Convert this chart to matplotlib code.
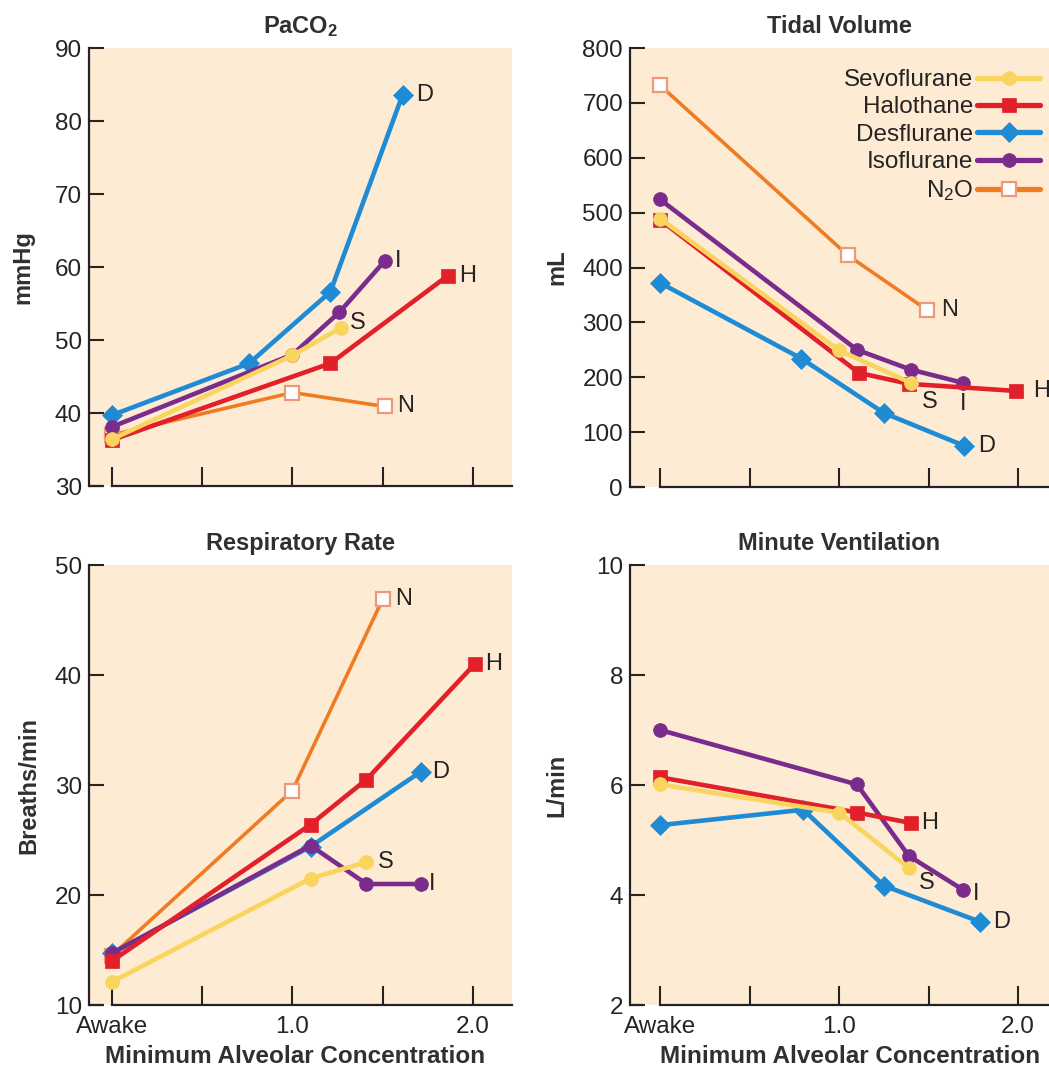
import matplotlib
matplotlib.use("Agg")
import matplotlib.pyplot as plt
from matplotlib.lines import Line2D

# ------------------------------------------------------------------ data
agents = ["Sevoflurane", "Halothane", "Desflurane", "Isoflurane", "N2O"]
agent_letters = ["S", "H", "D", "I", "N"]
mac_ticks = [0, 0.5, 1.0, 1.5, 2.0]
mac_tick_labels = ["Awake", "", "1.0", "", "2.0"]

# PaCO2 (mmHg)
paco2_sevo_mac = [0, 1.0, 1.27]
paco2_sevo = [36.4, 47.9, 51.7]
paco2_halo_mac = [0, 1.21, 1.86]
paco2_halo = [36.3, 46.8, 58.8]
paco2_des_mac = [0, 0.76, 1.21, 1.61]
paco2_des = [39.7, 46.8, 56.6, 83.6]
paco2_iso_mac = [0, 1.0, 1.26, 1.51]
paco2_iso = [38.1, 48.0, 53.8, 60.8]
paco2_n2o_mac = [0, 1.0, 1.51]
paco2_n2o = [37.0, 42.8, 40.9]

# Tidal volume (mL)
tv_sevo_mac = [0, 1.0, 1.40]
tv_sevo = [489, 249, 190]
tv_halo_mac = [0, 1.11, 1.39, 1.99]
tv_halo = [487, 208, 188, 175]
tv_des_mac = [0, 0.79, 1.25, 1.70]
tv_des = [372, 234, 135, 75]
tv_iso_mac = [0, 1.10, 1.40, 1.69]
tv_iso = [524, 250, 214, 190]
tv_n2o_mac = [0, 1.05, 1.49]
tv_n2o = [732, 422, 323]

# Respiratory rate (breaths/min)
rr_sevo_mac = [0, 1.1, 1.41]
rr_sevo = [12.1, 21.5, 23.0]
rr_halo_mac = [0, 1.1, 1.41, 2.01]
rr_halo = [14.0, 26.4, 30.5, 41.0]
rr_des_mac = [0, 1.1, 1.71]
rr_des = [14.7, 24.4, 31.2]
rr_iso_mac = [0, 1.1, 1.41, 1.71]
rr_iso = [14.7, 24.5, 21.0, 21.0]
rr_n2o_mac = [0, 1.0, 1.5]
rr_n2o = [14.5, 29.5, 46.9]

# Minute ventilation (L/min)
mv_sevo_mac = [0, 1.0, 1.39]
mv_sevo = [6.01, 5.5, 4.49]
mv_halo_mac = [0, 1.1, 1.40]
mv_halo = [6.14, 5.5, 5.31]
mv_des_mac = [0, 0.80, 1.25, 1.79]
mv_des = [5.27, 5.55, 4.17, 3.51]
mv_iso_mac = [0, 1.10, 1.39, 1.69]
mv_iso = [7.0, 6.01, 4.71, 4.1]

# ------------------------------------------------------------------ style
plt.rcParams["font.family"] = ["Liberation Sans", "DejaVu Sans"]
plt.rcParams["mathtext.fontset"] = "custom"
plt.rcParams["mathtext.rm"] = "Liberation Sans"
plt.rcParams["mathtext.bf"] = "Liberation Sans:bold"
plt.rcParams["mathtext.it"] = "Liberation Sans:italic"

TXT = "#262324"
LBL = "#303030"
BG = "#FDECD3"
colors = {"Sevoflurane": "#F9D45E", "Halothane": "#E1202A", "Desflurane": "#1E8BD4",
          "Isoflurane": "#7A2C8D", "N2O": "#EF7C25"}
markers = {"Sevoflurane": "o", "Halothane": "s", "Desflurane": "D",
           "Isoflurane": "o", "N2O": "s"}
msizes = {"Sevoflurane": 10, "Halothane": 10.5, "Desflurane": 10.5,
          "Isoflurane": 10, "N2O": 10}
lwidths = {"Sevoflurane": 3.3, "Halothane": 3.3, "Desflurane": 3.3,
           "Isoflurane": 3.3, "N2O": 2.6}
zorders = {"N2O": 2, "Desflurane": 3, "Isoflurane": 4, "Halothane": 5, "Sevoflurane": 6}
legend_names = {"Sevoflurane": "Sevoflurane", "Halothane": "Halothane",
                "Desflurane": "Desflurane", "Isoflurane": "Isoflurane",
                "N2O": r"N$_\mathrm{2}$O"}


def style_kw(agent):
    kw = dict(color=colors[agent], marker=markers[agent], ms=msizes[agent],
              lw=lwidths[agent], zorder=zorders[agent], solid_joinstyle="round",
              solid_capstyle="round")
    if agent == "N2O":
        kw.update(mfc="white", mec="#EE9878", mew=1.6)
    else:
        kw.update(mfc=colors[agent], mec=colors[agent], mew=0.5)
    return kw


W, H = 1049, 1072
fig = plt.figure(figsize=(W / 100, H / 100), dpi=100)


def add_axes_px(l, t, r, b):
    return fig.add_axes([l / W, 1 - b / H, (r - l) / W, (b - t) / H])


# label offsets in pixels (dx right, dy down) relative to last point
panels = [
    dict(box=(89, 48, 512, 486), xlim=(-0.127, 2.216), ylim=(30, 90), yticks=range(30, 91, 10),
         title=r"PaCO$_\mathbf{2}$", ylabel="mmHg", ylabel_x=-0.130, bottom=False,
         series={"N2O": (paco2_n2o_mac, paco2_n2o), "Desflurane": (paco2_des_mac, paco2_des),
                 "Isoflurane": (paco2_iso_mac, paco2_iso), "Halothane": (paco2_halo_mac, paco2_halo),
                 "Sevoflurane": (paco2_sevo_mac, paco2_sevo)},
         offs={"D": (22, 0), "I": (14, 0), "H": (20, 0), "S": (17, -5), "N": (21, 0)},
         legend=False),
    dict(box=(630, 48, 1049, 487), xlim=(-0.168, 2.173), ylim=(0, 800), yticks=range(0, 801, 100),
         title="Tidal Volume", ylabel="mL", ylabel_x=-0.148, bottom=False,
         series={"N2O": (tv_n2o_mac, tv_n2o), "Desflurane": (tv_des_mac, tv_des),
                 "Isoflurane": (tv_iso_mac, tv_iso), "Halothane": (tv_halo_mac, tv_halo),
                 "Sevoflurane": (tv_sevo_mac, tv_sevo)},
         offs={"N": (23, 0), "S": (19, 19), "I": (1, 21), "H": (25, 0), "D": (22, 0)},
         legend=True),
    dict(box=(89, 565, 512, 1005), xlim=(-0.127, 2.216), ylim=(10, 50), yticks=range(10, 51, 10),
         title="Respiratory Rate", ylabel="Breaths/min", ylabel_x=-0.116, bottom=True,
         xlabel_x=0.487,
         series={"N2O": (rr_n2o_mac, rr_n2o), "Desflurane": (rr_des_mac, rr_des),
                 "Isoflurane": (rr_iso_mac, rr_iso), "Halothane": (rr_halo_mac, rr_halo),
                 "Sevoflurane": (rr_sevo_mac, rr_sevo)},
         offs={"N": (21, 0), "H": (19, 0), "D": (20, 0), "S": (19, 0), "I": (11, 0)},
         legend=False),
    dict(box=(630, 565, 1049, 1005), xlim=(-0.168, 2.173), ylim=(2, 10), yticks=range(2, 11, 2),
         title="Minute Ventilation", ylabel="L/min", ylabel_x=-0.148, bottom=True,
         xlabel_x=0.525,
         series={"Desflurane": (mv_des_mac, mv_des), "Isoflurane": (mv_iso_mac, mv_iso),
                 "Halothane": (mv_halo_mac, mv_halo), "Sevoflurane": (mv_sevo_mac, mv_sevo)},
         offs={"H": (19, 0), "S": (18, 15), "I": (14, 5), "D": (21, 0)},
         legend=False),
]

for p in panels:
    ax = add_axes_px(*p["box"])
    ax.set_facecolor(BG)
    ax.set_xlim(*p["xlim"])
    ax.set_ylim(*p["ylim"])
    for s in ("top", "right"):
        ax.spines[s].set_visible(False)
    for s in ("left", "bottom"):
        ax.spines[s].set_linewidth(1.6)
        ax.spines[s].set_color(TXT)
    # bottom spine broken just before the "Awake" tick
    ax.spines["bottom"].set_bounds(0, p["xlim"][1])
    x0 = p["xlim"][0]
    ax.plot([x0, x0 + 0.075], [p["ylim"][0]] * 2, color=TXT, lw=1.6,
            clip_on=False, zorder=10, solid_capstyle="butt")

    ax.set_xticks(mac_ticks)
    ax.set_yticks(list(p["yticks"]))
    ax.tick_params(axis="y", direction="in", length=10.5, width=1.5, pad=5,
                   labelsize=17.5, colors=TXT)
    ax.tick_params(axis="x", direction="in", length=14, width=1.5, pad=8,
                   labelsize=17.5, colors=TXT)
    if p["bottom"]:
        ax.set_xticklabels(mac_tick_labels)
        ax.set_xlabel("Minimum Alveolar Concentration", fontsize=17.5, fontweight="bold",
                      color=LBL)
        ax.xaxis.set_label_coords(p["xlabel_x"], -0.092)
    else:
        ax.set_xticklabels([])

    ax.set_title(p["title"], fontsize=17, fontweight="bold", color=LBL, pad=11)
    ax.set_ylabel(p["ylabel"], fontsize=17, fontweight="bold", color=LBL)
    ax.yaxis.set_label_coords(p["ylabel_x"], 0.5)

    for agent, (xs, ys) in p["series"].items():
        ax.plot(xs, ys, **style_kw(agent))
        letter = agent_letters[agents.index(agent)]
        dx, dy = p["offs"][letter]
        ax.annotate(letter, xy=(xs[-1], ys[-1]), xytext=(dx * 0.72, -dy * 0.72),
                    textcoords="offset points", ha="center", va="center",
                    fontsize=17, color=TXT, zorder=12, annotation_clip=False)

    if p["legend"]:
        hs = [Line2D([], [], **style_kw(a)) for a in agents]
        for h in hs:
            h.set_linewidth(3.8)
        leg = ax.legend(hs, [legend_names[a] for a in agents], loc="upper right",
                        bbox_to_anchor=(0.979, 0.952), frameon=False, markerfirst=False,
                        fontsize=17.5, handlelength=2.6, handletextpad=0.15,
                        labelspacing=0.22, borderaxespad=0, borderpad=0, numpoints=1)
        for t in leg.get_texts():
            t.set_color(TXT)

fig.savefig("out.png", dpi=100, facecolor="white")
